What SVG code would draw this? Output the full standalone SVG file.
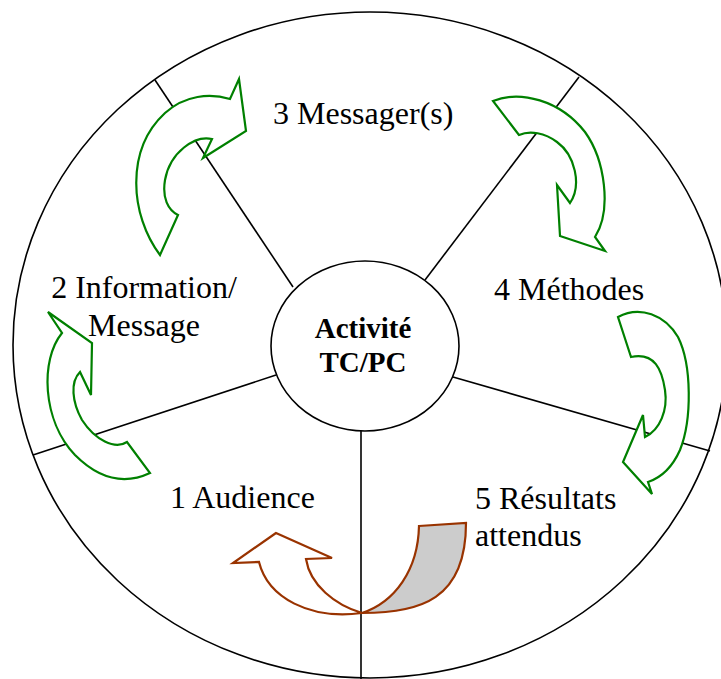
<svg xmlns="http://www.w3.org/2000/svg" width="721" height="679" viewBox="0 0 721 679">
<style>
.ln{stroke:#000;stroke-width:1.6;fill:none}
.g{fill:#fff;stroke:#008000;stroke-width:2.2;stroke-linejoin:miter}
.b{stroke:#993300;stroke-width:2.2;stroke-linejoin:miter}
.t{font-family:"Liberation Serif","Times New Roman",serif;font-size:32px;fill:#000}
.tb{font-family:"Liberation Serif","Times New Roman",serif;font-size:29px;font-weight:bold;fill:#000;text-anchor:middle}
</style>
<rect width="721" height="679" fill="#fff"/>
<g id="frame">
<ellipse class="ln" cx="370" cy="345" rx="357" ry="333"/>
</g>
<g id="connectors">
<line class="ln" x1="155" y1="80" x2="293" y2="287"/>
<line class="ln" x1="579" y1="77" x2="425" y2="280"/>
<line class="ln" x1="710" y1="451" x2="453" y2="377"/>
<line class="ln" x1="361" y1="431" x2="361" y2="679"/>
<line class="ln" x1="33" y1="455" x2="276" y2="375"/>
</g>
<g id="center">
<ellipse cx="365" cy="346" rx="94" ry="85" fill="#fff" stroke="#000" stroke-width="1.6"/>
<text class="tb" x="363" y="338">Activité</text>
<text class="tb" x="363" y="372">TC/PC</text>
</g>
<g id="n3">
<path class="g" d="M160,255 C130,215 125,150 165,113 C185,95 210,93 230,99 L239,79 L246,131 L203,158 L212,139 C195,135 170,152 165,180 C162,198 168,210 178,215 Z"/>
<text class="t" x="273" y="124">3 Messager(s)</text>
</g>
<g id="n4">
<path class="g" d="M519,135 L493,101 C520,90 560,100 585,132 C605,160 612,210 595,237 L605,251 L560,236 L557,185 L570,203 C582,185 575,155 557,142 C545,133 530,130 519,135 Z"/>
<text class="t" x="494" y="300">4 Méthodes</text>
</g>
<g id="n5">
<path class="g" d="M631,357 L618,317 C640,305 665,315 678,337 C692,365 692,420 680,450 C672,468 660,478 648,482 L652,494 L623,462 L643,415 L645,437 C660,430 668,410 665,390 C662,370 655,352 631,357 Z"/>
<path class="b" fill="#cccccc" d="M419,526 L466,523 C466,600 420,613 362,613 C395,602 418,570 419,526 Z"/>
<text class="t" x="475" y="509">5 Résultats</text>
<text class="t" x="475" y="546">attendus</text>
</g>
<g id="n1">
<path class="b" fill="#fff" d="M276,533 L233,563 L259,562 C268,598 310,620 362,613 C335,605 310,585 306,559 L332,558 Z"/>
<text class="t" x="170" y="508">1 Audience</text>
</g>
<g id="n2">
<path class="g" d="M48,312 L62,333 C40,360 42,420 75,455 C95,475 120,487 150,473 L127,442 C115,450 95,440 82,420 C72,402 70,382 80,372 L91,395 L92,343 Z"/>
<text class="t" x="144" y="298" text-anchor="middle">2 Information/</text>
<text class="t" x="144" y="336" text-anchor="middle">Message</text>
</g>
</svg>
